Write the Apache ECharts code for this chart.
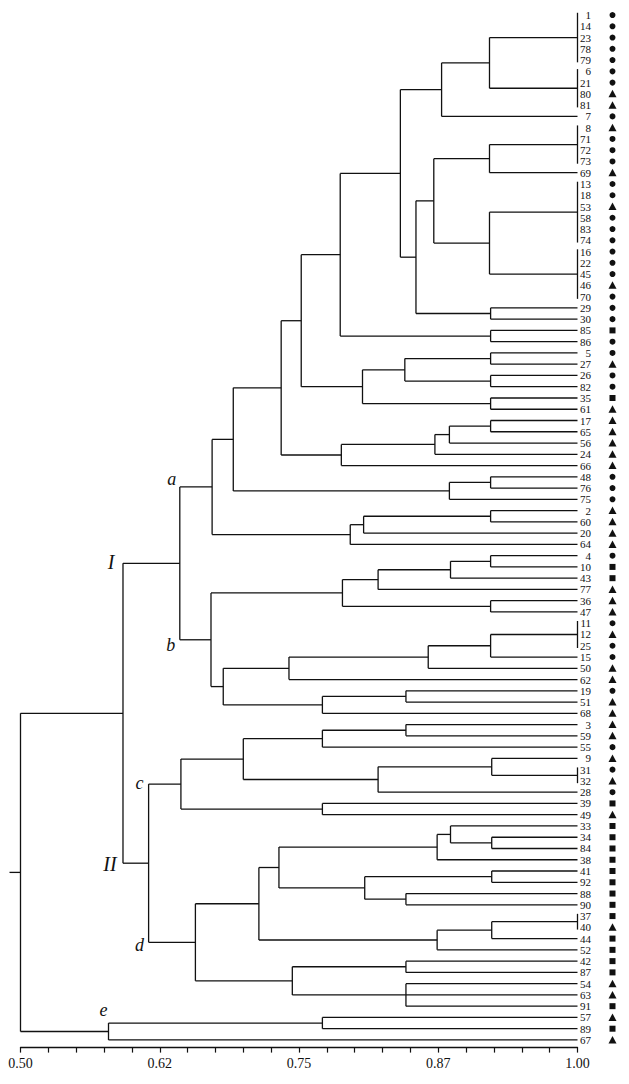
<!DOCTYPE html>
<html><head><meta charset="utf-8">
<script src="https://cdn.jsdelivr.net/npm/echarts@6/dist/echarts.min.js"></script>
<style>html,body{margin:0;padding:0;background:#fff}#c{width:629px;height:1084px}</style>
</head><body><div id="c"></div>
<script>
// Leaf order (top to bottom)
const leaves = ['1','14','23','78','79','6','21','80','81','7','8','71','72','73','69','13','18','53','58','83','74',
 '16','22','45','46','70','29','30','85','86','5','27','26','82','35','61','17','65','56','24','66','48','76','75',
 '2','60','20','64','4','10','43','77','36','47','11','12','25','15','50','62','19','51','68','3','59','55','9',
 '31','32','28','39','49','33','34','84','38','41','92','88','90','37','40','44','52','42','87','54','63','91',
 '57','89','67'];
// Marker type per leaf: c = circle, t = triangle, s = square
const leafMarkers = ['c','c','c','c','c','c','c','t','t','c','t','c','c','c','t','c','c','t','c','c','c',
 'c','c','c','t','c','c','c','s','c','c','t','c','c','s','t','t','t','t','t','t','c','c','c',
 't','t','t','t','c','s','s','t','t','t','c','t','c','c','t','t','c','t','t','t','t','c','t',
 'c','t','c','s','t','s','s','s','s','s','s','s','s','s','t','s','s','s','s','t','t','s',
 't','s','t'];
// Merges: [node id, similarity coefficient, children]
const merges = [
 ['g1',1.000,['1','14','23','78','79']],
 ['g2',1.000,['6','21','80','81']],
 ['g3',1.000,['8','71','72','73']],
 ['g4',1.000,['13','18','53','58','83','74']],
 ['g5',1.000,['16','22','45','46','70']],
 ['g6',1.000,['11','12','25']],
 ['g7',1.000,['31','32']],
 ['g8',1.000,['37','40']],
 ['A',0.921,['g1','g2']],
 ['B',0.878,['A','7']],
 ['D',0.921,['g3','69']],
 ['E',0.921,['g4','g5']],
 ['F',0.871,['D','E']],
 ['N29',0.922,['29','30']],
 ['G',0.855,['F','N29']],
 ['C',0.841,['B','G']],
 ['N85',0.922,['85','86']],
 ['H',0.787,['C','N85']],
 ['N5',0.922,['5','27']],
 ['N26',0.922,['26','82']],
 ['K',0.845,['N5','N26']],
 ['N35',0.922,['35','61']],
 ['J',0.807,['K','N35']],
 ['I1',0.752,['H','J']],
 ['N17',0.922,['17','65']],
 ['O',0.885,['N17','56']],
 ['N',0.872,['O','24']],
 ['M',0.788,['N','66']],
 ['L',0.734,['I1','M']],
 ['N48',0.922,['48','76']],
 ['Q',0.885,['N48','75']],
 ['P',0.691,['L','Q']],
 ['N2',0.922,['2','60']],
 ['T',0.808,['N2','20']],
 ['S',0.796,['T','64']],
 ['R',0.672,['P','S']],
 ['N4',0.922,['4','10']],
 ['X',0.886,['N4','43']],
 ['V',0.821,['X','77']],
 ['N36',0.922,['36','47']],
 ['U',0.789,['V','N36']],
 ['N11',0.922,['g6','15']],
 ['AA',0.866,['N11','50']],
 ['Z',0.741,['AA','62']],
 ['N19',0.846,['19','51']],
 ['AB',0.771,['N19','68']],
 ['Y',0.682,['Z','AB']],
 ['b',0.671,['U','Y']],
 ['a',0.643,['R','b']],
 ['N3',0.846,['3','59']],
 ['AD',0.771,['N3','55']],
 ['N9',0.923,['9','g7']],
 ['AE',0.821,['N9','28']],
 ['AC',0.700,['AD','AE']],
 ['N39',0.771,['39','49']],
 ['c',0.644,['AC','N39']],
 ['N34',0.923,['34','84']],
 ['AI',0.886,['33','N34']],
 ['AH',0.874,['AI','38']],
 ['N41',0.923,['41','92']],
 ['N88',0.846,['88','90']],
 ['AJ',0.809,['N41','N88']],
 ['AG',0.732,['AH','AJ']],
 ['N37',0.923,['g8','44']],
 ['AL',0.874,['N37','52']],
 ['AF',0.714,['AG','AL']],
 ['N42',0.846,['42','87']],
 ['N54',0.846,['54','63','91']],
 ['AM',0.744,['N42','N54']],
 ['d',0.657,['AF','AM']],
 ['II',0.615,['c','d']],
 ['Ia',0.592,['a','II']],
 ['N57',0.771,['57','89']],
 ['e',0.579,['N57','67']],
 ['root',0.500,['Ia','e']]
];
const tickLabels = ['0.50','0.62','0.75','0.87','1.00'];
// Cluster labels: [text, parent node, child node]
const branchLabels = [
 ['I','Ia','a'], ['II','Ia','II'], ['a','a','R'], ['b','a','b'],
 ['c','II','c'], ['d','II','d'], ['e','e','N57']
];

// ---- build geometry in data space ----
const nodes = {};
leaves.forEach((l,i)=>{ nodes[l] = {h:1.0, y:i}; });
const segs = [];
merges.forEach(([id,h,ch])=>{
  const ys = ch.map(c=>nodes[c].y);
  const y0 = Math.min(...ys), y1 = Math.max(...ys);
  const ext = h >= 1 ? 0.2 : 0;
  segs.push([h, y0-ext, h, y1+ext, 0]);
  ch.forEach(c=>{ if (nodes[c].h > h) segs.push([h, nodes[c].y, nodes[c].h, nodes[c].y, 0]); });
  nodes[id] = {h:h, y:(y0+y1)/2};
});
segs.push([nodes.root.h, nodes.root.y, nodes.root.h, nodes.root.y, 1]); // root stub

const labelStyle = {
  'I':{dx:-12,dy:-1,size:20}, 'II':{dx:-13,dy:1,size:20},
  'a':{dx:-8,dy:-8,size:18}, 'b':{dx:-9,dy:5,size:18},
  'c':{dx:-9,dy:-1,size:18}, 'd':{dx:-9,dy:3,size:18}, 'e':{dx:-5,dy:-13,size:18}
};
const blData = branchLabels.map(([t,p,c])=>[nodes[p].h, nodes[c].y, t]);

const chart = echarts.init(document.getElementById('c'), null, {renderer:'svg'});
const INK = '#111';
chart.setOption({
  animation:false,
  backgroundColor:'#fff',
  grid:{left:20.5, right:51.5, top:9.4, bottom:38.4},
  xAxis:{type:'value', min:0.5, max:1.0, interval:0.025, offset:2, position:'bottom',
    axisLine:{onZero:false, lineStyle:{color:INK, width:1.3}},
    axisTick:{length:5, lineStyle:{color:INK, width:1.2}},
    splitLine:{show:false},
    axisLabel:{margin:9, fontFamily:'Liberation Serif', fontSize:14, color:INK,
      formatter:function(v){
        const k = Math.round((v-0.5)/0.125);
        return Math.abs(v-(0.5+k*0.125))<1e-6 ? tickLabels[k] : '';
      }}
  },
  yAxis:{type:'value', min:-0.5, max:91.5, inverse:true, show:false},
  series:[
    {type:'custom', clip:false, data:segs,
     encode:{x:[0,2], y:[1,3]},
     renderItem:function(params, api){
       const s = segs[params.dataIndex];
       const p1 = api.coord([s[0], s[1]]), p2 = api.coord([s[2], s[3]]);
       if (s[4] === 1) p1[0] -= 11;
       return {type:'line', shape:{x1:p1[0], y1:p1[1], x2:p2[0], y2:p2[1]},
               style:{stroke:INK, lineWidth:1.3}};
     }},
    {type:'custom', clip:false, data:leaves.map((l,i)=>[1.0, i]),
     encode:{x:0, y:1},
     renderItem:function(params, api){
       const i = params.dataIndex;
       const p = api.coord([api.value(0), api.value(1)]);
       const mx = p[0] + 35, my = p[1];
       let mk;
       const m = leafMarkers[i];
       if (m === 'c') mk = {type:'circle', shape:{cx:mx, cy:my, r:3}, style:{fill:INK}};
       else if (m === 's') mk = {type:'rect', shape:{x:mx-3, y:my-3, width:6, height:6}, style:{fill:INK}};
       else mk = {type:'polygon', shape:{points:[[mx,my-4],[mx-4,my+3.5],[mx+4,my+3.5]]}, style:{fill:INK}};
       return {type:'group', children:[
         {type:'text', style:{text:leaves[i], x:p[0]+13.5, y:p[1], align:'right', verticalAlign:'middle',
           font:'11px "Liberation Serif"', fill:INK}},
         mk
       ]};
     }},
    {type:'custom', clip:false, data:blData,
     encode:{x:0, y:1},
     renderItem:function(params, api){
       const d = blData[params.dataIndex];
       const st = labelStyle[d[2]];
       const p = api.coord([d[0], d[1]]);
       return {type:'text', style:{text:d[2], x:p[0]+st.dx, y:p[1]+st.dy, align:'center', verticalAlign:'middle',
         font:'italic ' + st.size + 'px "Liberation Serif"', fill:INK}};
     }}
  ]
});
</script>
</body></html>
